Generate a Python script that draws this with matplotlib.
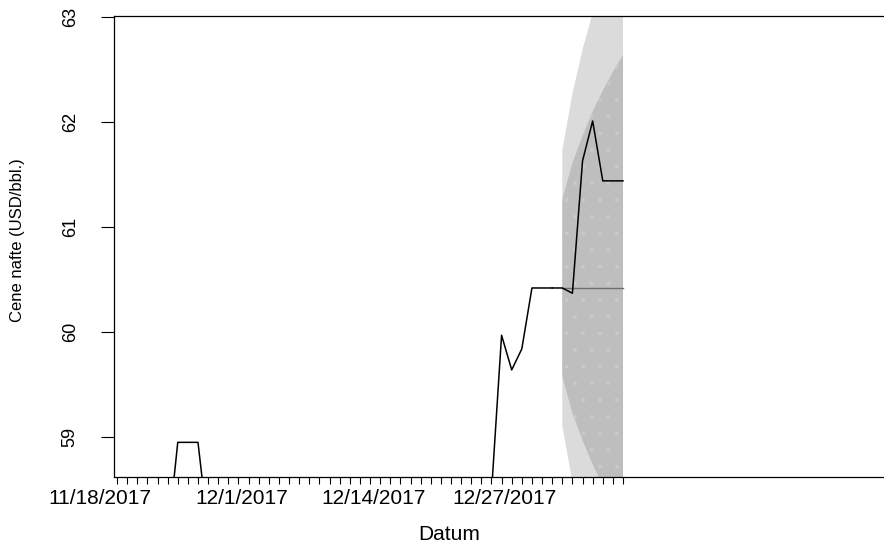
import matplotlib
matplotlib.use("Agg")
import matplotlib.pyplot as plt
from matplotlib.transforms import ScaledTranslation

plt.rcParams['font.family'] = ['Liberation Sans', 'DejaVu Sans']
plt.rcParams['hatch.linewidth'] = 0.5

# Daily WTI closing prices (weekends/holidays carried forward), 11/18/2017 .. 12/31/2017
history = [56.55, 56.55, 56.09, 56.83, 58.02, 58.02, 58.95, 58.95, 58.95, 58.11,
           57.99, 57.30, 57.40, 58.36, 58.36, 58.36, 57.47, 57.62, 55.96, 56.69,
           57.36, 57.36, 57.36, 57.99, 57.14, 56.60, 57.04, 57.30, 57.30, 57.30,
           57.16, 57.46, 58.09, 57.96, 58.47, 58.47, 58.47, 58.47, 59.97, 59.64,
           59.84, 60.42, 60.42, 60.42]

# Realised prices over the forecast window (starting from last observed day)
actual = [60.42, 60.42, 60.37, 61.63, 62.01, 61.44, 61.44, 61.44]

# Naive forecast with 80% and 95% prediction intervals, 7 days ahead
fc_mean = [60.42, 60.42, 60.42, 60.42, 60.42, 60.42, 60.42]
lo80 = [59.58, 59.23, 58.97, 58.74, 58.54, 58.36, 58.20]
hi80 = [61.26, 61.61, 61.87, 62.10, 62.30, 62.48, 62.64]
lo95 = [59.11, 58.57, 58.15, 57.80, 57.49, 57.21, 56.95]
hi95 = [61.73, 62.27, 62.69, 63.04, 63.35, 63.63, 63.89]

date_labels = ["11/18/2017", "12/1/2017", "12/14/2017", "12/27/2017"]
label_step = 13
y_ticks = [59, 60, 61, 62, 63]

n_hist = len(history)
n_fc = len(fc_mean)
x_hist = list(range(n_hist))
x_fc = list(range(n_hist, n_hist + n_fc))
x_act = list(range(n_hist - 1, n_hist - 1 + len(actual)))

W, H = 884, 545
fig = plt.figure(figsize=(W / 100, H / 100), dpi=100)
ax = fig.add_axes([114 / W, 68 / H, (905 - 114) / W, 461 / H])

ax.fill_between(x_fc, lo95, hi95, color='#dbdbdb', linewidth=0, zorder=1)
ax.fill_between(x_fc, lo80, hi80, facecolor='#bebebe', edgecolor='#c9c9c9',
                hatch='.', linewidth=0, zorder=2)
ax.plot(x_fc, fc_mean, color='#6e6e6e', lw=1.0, zorder=3)
ax.plot(x_hist, history, color='black', lw=1.1, zorder=4)
ax.plot(x_act, actual, color='black', lw=1.1, zorder=4)

ax.set_xlim(-0.3, (905 - 117) / 10.12)
ax.set_ylim(58.62, 63.01)

# one tick per day, a date label every 13 days
n_total = n_hist + n_fc
ax.set_xticks(range(n_total))
labels = [""] * n_total
for k, lab in enumerate(date_labels):
    labels[k * label_step] = lab
ax.set_xticklabels(labels, fontsize=15)
ax.tick_params(axis='x', length=5, width=0.8, direction='out', pad=4)
tick_labels = ax.get_xticklabels()
for i, lbl in enumerate(tick_labels):
    dx = -17 if i == 0 else -7
    lbl.set_transform(lbl.get_transform() + ScaledTranslation(dx / 100, 0, fig.dpi_scale_trans))

ax.set_yticks(y_ticks)
ax.set_yticklabels([str(v) for v in y_ticks], rotation=90, va='center', fontsize=13)
ax.tick_params(axis='y', length=9.4, width=0.8, pad=16)

for side in ('left', 'top', 'bottom'):
    ax.spines[side].set_linewidth(0.9)
ax.spines['right'].set_visible(False)

fig.text(449 / W, 1 - 534 / H, "Datum", ha='center', va='center', fontsize=15)
fig.text(18 / W, 1 - 240 / H, "Cene nafte (USD/bbl.)", ha='center', va='center',
         rotation=90, fontsize=12)

fig.savefig("out.png", dpi=100)
